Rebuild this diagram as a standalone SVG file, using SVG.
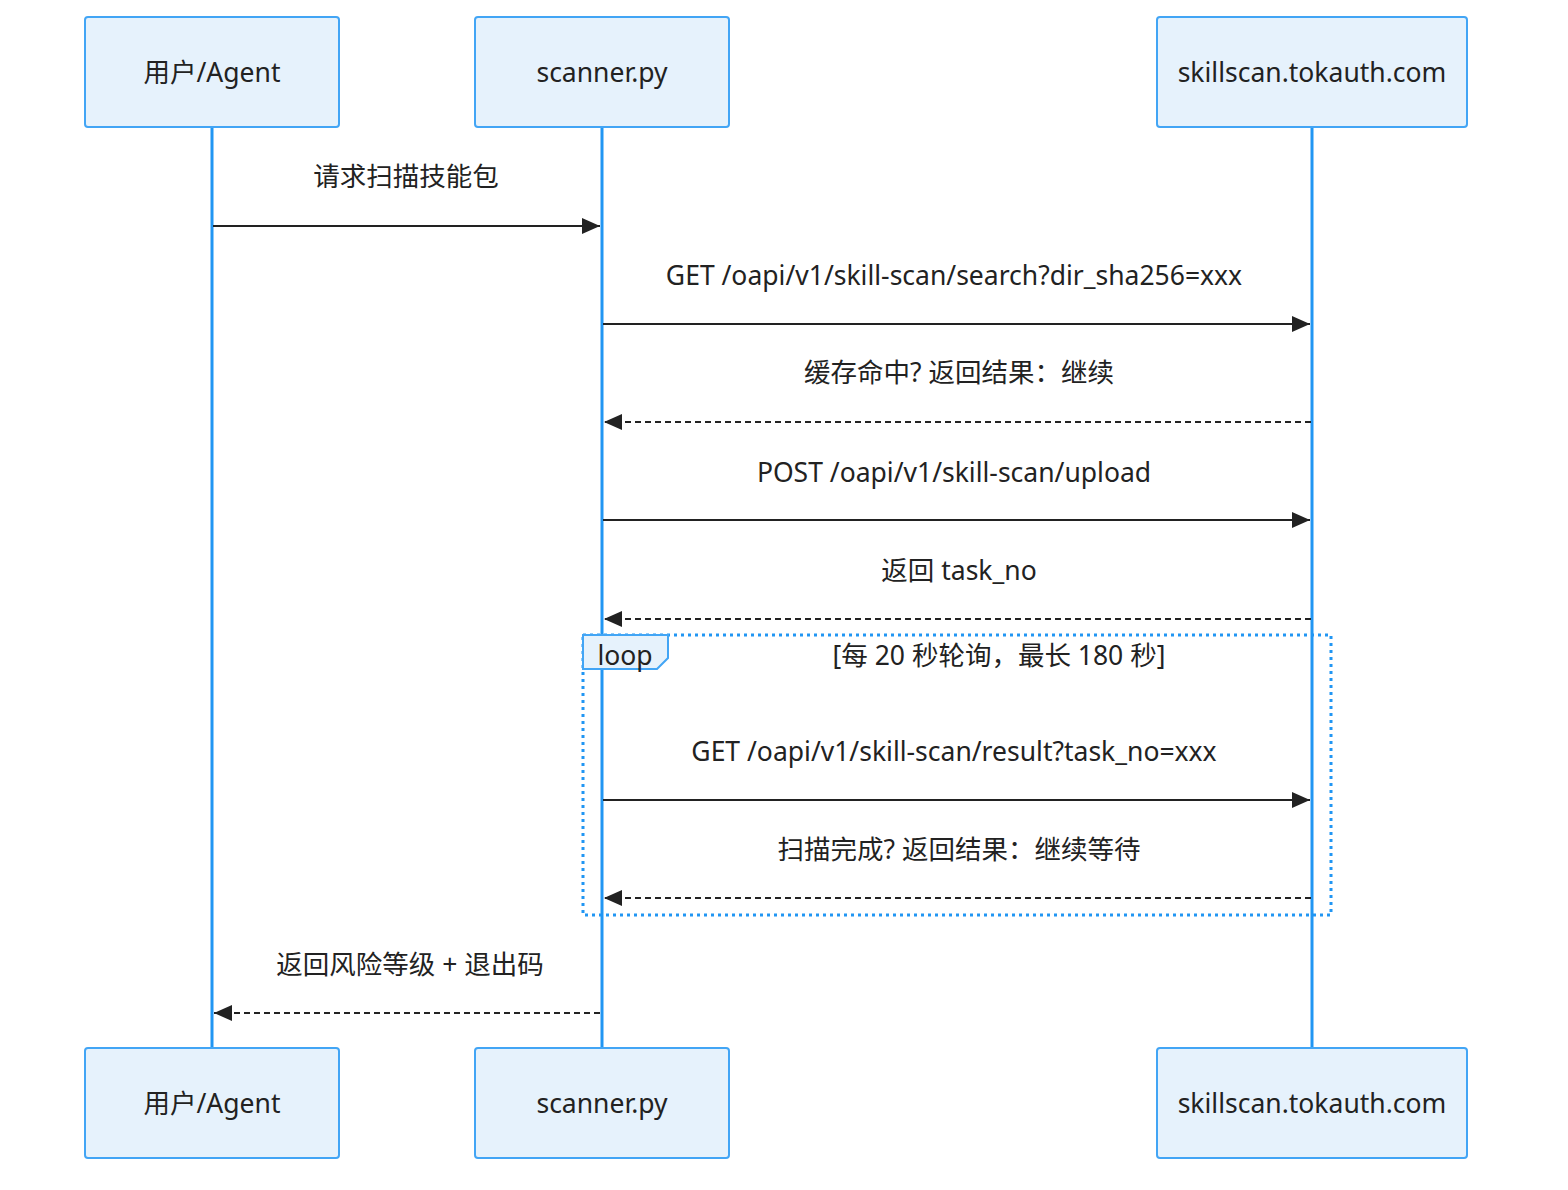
<svg xmlns="http://www.w3.org/2000/svg" width="1568" height="1190" viewBox="0 0 1568 1190">
<style>
text{font-family:"Noto Sans","Noto Sans CJK SC",sans-serif;font-size:26.5px;fill:#222;text-anchor:middle;dominant-baseline:central}
.actor{fill:#E6F2FC;stroke:#42A5F5;stroke-width:2}
.life{stroke:#2196F3;stroke-width:3}
.msg{stroke:#222;stroke-width:2;fill:none}
.dash{stroke-dasharray:6,4}
.loop{fill:none;stroke:#2196F3;stroke-width:3;stroke-dasharray:3,4}
</style>
<defs>
<marker id="ah" viewBox="0 0 18 16" refX="18" refY="8" markerWidth="18" markerHeight="16" markerUnits="userSpaceOnUse" orient="auto">
<path d="M0,0 L18,8 L0,16 z" fill="#222"/>
</marker>
</defs>
<g id="lifelines">
<line class="life" x1="212" y1="127" x2="212" y2="1048"/>
<line class="life" x1="602" y1="127" x2="602" y2="1048"/>
<line class="life" x1="1312" y1="127" x2="1312" y2="1048"/>
</g>
<g id="actor-user-top"><rect class="actor" x="85" y="17" width="254" height="110" rx="3"/><text x="212" y="72">用户/Agent</text></g>
<g id="actor-scanner-top"><rect class="actor" x="475" y="17" width="254" height="110" rx="3"/><text x="602" y="72">scanner.py</text></g>
<g id="actor-server-top"><rect class="actor" x="1157" y="17" width="310" height="110" rx="3"/><text x="1312" y="72">skillscan.tokauth.com</text></g>
<g id="actor-user-bottom"><rect class="actor" x="85" y="1048" width="254" height="110" rx="3"/><text x="212" y="1103">用户/Agent</text></g>
<g id="actor-scanner-bottom"><rect class="actor" x="475" y="1048" width="254" height="110" rx="3"/><text x="602" y="1103">scanner.py</text></g>
<g id="actor-server-bottom"><rect class="actor" x="1157" y="1048" width="310" height="110" rx="3"/><text x="1312" y="1103">skillscan.tokauth.com</text></g>
<g id="loop">
<rect class="loop" x="583" y="635" width="748" height="280"/>
<path d="M583,635 H668 V658 L657,669 H583 Z" fill="#E6F2FC" stroke="#42A5F5" stroke-width="2"/>
<text x="625" y="655">loop</text>
<text x="999" y="655">[每 20 秒轮询，最长 180 秒]</text>
</g>
<g id="connectors">
<text x="406" y="176">请求扫描技能包</text>
<line class="msg" x1="213" y1="226" x2="600" y2="226" marker-end="url(#ah)"/>
<text x="954" y="275">GET /oapi/v1/skill-scan/search?dir_sha256=xxx</text>
<line class="msg" x1="603" y1="324" x2="1310" y2="324" marker-end="url(#ah)"/>
<text x="959" y="372">缓存命中? 返回结果：继续</text>
<line class="msg dash" x1="1311" y1="422" x2="604" y2="422" marker-end="url(#ah)"/>
<text x="954" y="472">POST /oapi/v1/skill-scan/upload</text>
<line class="msg" x1="603" y1="520" x2="1310" y2="520" marker-end="url(#ah)"/>
<text x="959" y="570">返回 task_no</text>
<line class="msg dash" x1="1311" y1="619" x2="604" y2="619" marker-end="url(#ah)"/>
<text x="954" y="751">GET /oapi/v1/skill-scan/result?task_no=xxx</text>
<line class="msg" x1="603" y1="800" x2="1310" y2="800" marker-end="url(#ah)"/>
<text x="959" y="849">扫描完成? 返回结果：继续等待</text>
<line class="msg dash" x1="1311" y1="898" x2="604" y2="898" marker-end="url(#ah)"/>
<text x="410" y="964">返回风险等级 + 退出码</text>
<line class="msg dash" x1="600" y1="1013" x2="214" y2="1013" marker-end="url(#ah)"/>
</g>
</svg>
